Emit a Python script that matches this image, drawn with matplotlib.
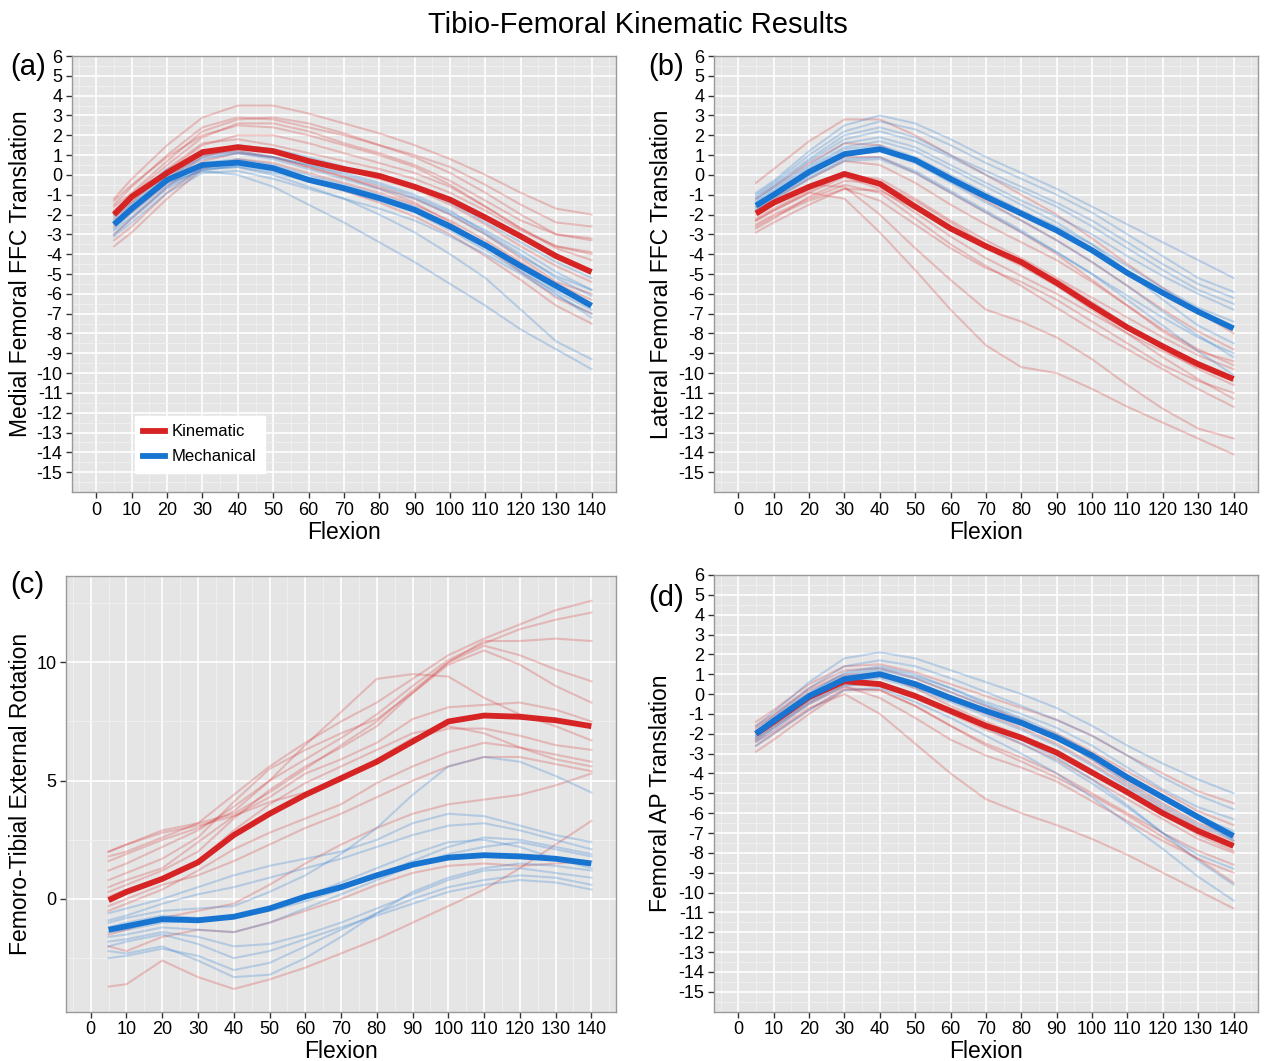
import matplotlib
matplotlib.use('Agg')
import matplotlib.pyplot as plt
from matplotlib.ticker import MultipleLocator
from matplotlib.lines import Line2D

plt.rcParams['font.family'] = ['Liberation Sans', 'DejaVu Sans']
plt.rcParams['axes.unicode_minus'] = False

# flexion angles (deg) at which every curve is sampled
flexion = [5, 10, 20, 30, 40, 50, 60, 70, 80, 90, 100, 110, 120, 130, 140]
flexion_ticks = [0, 10, 20, 30, 40, 50, 60, 70, 80, 90, 100, 110, 120, 130, 140]
trans_ticks = list(range(-15, 7))
rot_ticks = [0, 5, 10]

# (a) medial femoral FFC translation
a_kin_mean = [-2.0, -1.1, 0.1, 1.15, 1.4, 1.2, 0.7, 0.3, -0.05, -0.6, -1.25, -2.15, -3.1, -4.1, -4.9]
a_mech_mean = [-2.5, -1.7, -0.25, 0.5, 0.62, 0.34, -0.25, -0.67, -1.17, -1.76, -2.6, -3.55, -4.6, -5.6, -6.6]
a_kin_subj = [
    [-1.2, -0.2, 1.5, 2.9, 3.5, 3.5, 3.1, 2.6, 2.1, 1.5, 0.8, 0.0, -0.9, -1.7, -2.0],
    [-1.5, -0.6, 1.0, 2.4, 2.9, 2.8, 2.4, 2.0, 1.5, 1.0, 0.4, -0.5, -1.5, -2.4, -2.6],
    [-1.8, -1.0, 0.5, 1.9, 2.6, 2.6, 2.2, 1.6, 1.1, 0.5, -0.3, -1.3, -2.3, -3.0, -3.3],
    [-2.2, -1.4, 0.2, 1.5, 2.0, 2.0, 1.6, 1.1, 0.6, 0.1, -0.6, -1.6, -2.7, -3.7, -4.3],
    [-2.6, -1.9, -0.4, 0.9, 1.4, 1.2, 0.8, 0.3, -0.2, -0.7, -1.5, -2.5, -3.6, -4.6, -5.4],
    [-3.6, -2.9, -1.2, 0.3, 0.8, 0.6, 0.1, -0.4, -0.9, -1.5, -2.3, -3.3, -4.4, -5.5, -6.3],
    [-3.0, -2.2, -0.6, 0.7, 1.1, 0.9, 0.4, -0.1, -0.6, -1.2, -2.0, -3.0, -4.2, -5.4, -6.0],
    [-1.3, -0.5, 0.9, 2.0, 2.5, 2.4, 2.0, 1.5, 1.0, 0.4, -0.5, -1.6, -2.7, -3.6, -3.9],
    [-2.4, -1.6, -0.2, 1.0, 1.2, 0.9, 0.4, -0.1, -0.7, -1.4, -2.4, -3.6, -4.9, -6.2, -7.0],
    [-2.0, -1.3, 0.3, 1.6, 1.8, 1.5, 1.1, 0.7, 0.3, -0.2, -0.9, -1.8, -2.8, -3.6, -4.0],
    [-3.3, -2.6, -0.9, 0.4, 0.6, 0.3, -0.2, -0.8, -1.4, -2.1, -3.0, -4.1, -5.3, -6.6, -7.5],
    [-1.6, -0.9, 0.7, 2.2, 2.8, 2.9, 2.6, 2.1, 1.5, 0.9, 0.1, -0.9, -2.0, -3.0, -3.2],
]
a_mech_subj = [
    [-2.0, -1.2, 0.2, 1.1, 1.5, 1.3, 0.9, 0.4, -0.1, -0.6, -1.4, -2.4, -3.4, -4.4, -5.2],
    [-2.3, -1.5, -0.1, 0.8, 1.1, 0.8, 0.3, -0.2, -0.7, -1.2, -2.0, -3.0, -4.1, -5.1, -5.8],
    [-2.7, -1.9, -0.5, 0.3, 0.4, 0.1, -0.3, -0.8, -1.3, -1.9, -2.8, -3.8, -4.9, -5.9, -6.8],
    [-3.1, -2.4, -0.9, 0.1, 0.2, -0.2, -0.7, -1.2, -1.7, -2.3, -3.1, -4.0, -5.0, -6.1, -7.0],
    [-2.4, -1.7, -0.4, 0.2, 0.0, -0.6, -1.5, -2.4, -3.4, -4.4, -5.5, -6.6, -7.8, -8.8, -9.8],
    [-2.8, -2.1, -0.6, 0.3, 0.4, 0.0, -0.6, -1.2, -2.0, -2.9, -4.0, -5.2, -6.8, -8.4, -9.3],
    [-1.9, -1.1, 0.3, 1.0, 1.2, 0.9, 0.5, 0.0, -0.5, -1.1, -1.9, -2.8, -3.8, -4.9, -5.8],
    [-2.5, -1.8, -0.3, 0.6, 0.8, 0.5, 0.0, -0.5, -1.0, -1.6, -2.5, -3.6, -4.7, -5.8, -6.5],
    [-3.0, -2.2, -0.7, 0.2, 0.5, 0.2, -0.2, -0.7, -1.2, -1.8, -2.6, -3.6, -4.8, -6.0, -7.2],
    [-2.1, -1.4, 0.0, 0.9, 1.1, 0.9, 0.5, 0.1, -0.4, -1.0, -1.8, -2.9, -4.0, -5.2, -6.1],
]

# (b) lateral femoral FFC translation
b_kin_mean = [-1.95, -1.4, -0.6, 0.05, -0.45, -1.6, -2.7, -3.6, -4.4, -5.45, -6.6, -7.7, -8.65, -9.55, -10.3]
b_mech_mean = [-1.55, -1.0, 0.15, 1.05, 1.3, 0.75, -0.2, -1.1, -1.95, -2.8, -3.8, -4.95, -5.95, -6.9, -7.75]
b_kin_subj = [
    [-0.4, 0.3, 1.7, 2.8, 2.8, 2.0, 1.0, 0.0, -1.0, -2.0, -3.2, -4.5, -5.7, -6.9, -8.0],
    [-1.2, -0.6, 0.6, 1.6, 1.5, 0.7, -0.3, -1.3, -2.3, -3.3, -4.4, -5.6, -6.8, -7.9, -8.8],
    [-1.8, -1.2, -0.2, 0.7, 0.5, -0.4, -1.5, -2.5, -3.4, -4.3, -5.4, -6.6, -7.8, -8.8, -9.6],
    [-2.3, -1.8, -0.9, -0.1, -0.7, -1.9, -3.1, -4.2, -5.1, -6.0, -7.0, -8.0, -8.9, -9.7, -10.4],
    [-2.6, -2.1, -1.3, -0.7, -1.3, -2.5, -3.7, -4.7, -5.4, -6.3, -7.4, -8.5, -9.6, -10.4, -11.0],
    [-2.3, -1.8, -0.9, -1.2, -2.9, -4.8, -6.8, -8.6, -9.7, -10.0, -10.8, -11.7, -12.5, -13.3, -14.1],
    [-2.0, -1.5, -0.5, -0.6, -2.0, -3.7, -5.3, -6.8, -7.4, -8.2, -9.3, -10.6, -11.8, -12.8, -13.3],
    [-2.9, -2.4, -1.5, -0.7, -0.8, -1.7, -2.8, -3.7, -4.6, -5.6, -6.8, -8.0, -9.2, -10.3, -11.3],
    [-1.6, -1.0, 0.1, 0.9, 0.9, 0.1, -0.9, -1.9, -2.9, -4.0, -5.3, -6.6, -7.9, -8.9, -9.4],
    [-2.7, -2.2, -1.1, -0.3, -0.4, -1.3, -2.4, -3.5, -4.4, -5.3, -6.4, -7.6, -8.8, -9.8, -10.6],
    [-2.2, -1.7, -0.8, 0.0, -0.2, -1.2, -2.3, -3.3, -4.2, -5.2, -6.2, -7.2, -8.2, -9.1, -9.8],
    [-2.5, -2.0, -1.2, -0.5, -0.9, -2.2, -3.5, -4.6, -5.6, -6.7, -7.8, -8.8, -9.8, -10.8, -11.7],
]
b_mech_subj = [
    [-0.9, -0.3, 1.2, 2.5, 3.0, 2.6, 1.8, 0.9, 0.1, -0.7, -1.6, -2.5, -3.4, -4.3, -5.2],
    [-1.1, -0.5, 0.8, 2.0, 2.4, 1.9, 1.0, 0.2, -0.6, -1.4, -2.3, -3.4, -4.5, -5.5, -6.2],
    [-1.3, -0.7, 0.5, 1.6, 1.9, 1.4, 0.5, -0.4, -1.3, -2.1, -3.0, -4.1, -5.1, -6.0, -6.8],
    [-1.5, -0.9, 0.3, 1.3, 1.5, 0.9, 0.0, -0.9, -1.8, -2.6, -3.5, -4.6, -5.7, -6.7, -7.4],
    [-1.7, -1.2, -0.1, 0.8, 0.9, 0.2, -0.8, -1.8, -2.8, -3.9, -5.0, -6.3, -7.6, -8.9, -10.1],
    [-1.6, -1.1, 0.0, 1.0, 1.2, 0.6, -0.4, -1.4, -2.3, -3.3, -4.4, -5.6, -6.9, -8.1, -9.2],
    [-1.2, -0.6, 0.7, 1.8, 2.2, 1.7, 0.9, 0.0, -0.8, -1.6, -2.6, -3.7, -4.8, -5.8, -6.5],
    [-1.4, -0.8, 0.4, 1.4, 1.7, 1.2, 0.3, -0.6, -1.5, -2.4, -3.5, -4.9, -6.3, -7.6, -8.5],
    [-1.0, -0.4, 1.0, 2.2, 2.7, 2.3, 1.5, 0.6, -0.2, -1.0, -1.9, -3.0, -4.1, -5.2, -5.9],
    [-1.8, -1.3, -0.2, 0.7, 0.8, 0.1, -0.9, -1.9, -2.9, -3.9, -5.0, -6.1, -7.2, -8.2, -9.0],
]

# (c) femoro-tibial external rotation
c_kin_mean = [-0.05, 0.3, 0.85, 1.55, 2.7, 3.6, 4.4, 5.1, 5.8, 6.65, 7.5, 7.75, 7.7, 7.55, 7.3]
c_mech_mean = [-1.3, -1.15, -0.85, -0.9, -0.75, -0.4, 0.1, 0.5, 1.0, 1.45, 1.75, 1.85, 1.8, 1.7, 1.5]
c_kin_subj = [
    [1.8, 2.0, 2.6, 3.2, 4.4, 5.6, 6.6, 7.5, 8.3, 9.3, 10.3, 11.0, 11.6, 12.2, 12.6],
    [1.2, 1.5, 2.2, 2.9, 3.9, 5.0, 5.9, 6.8, 7.8, 9.0, 10.1, 10.8, 11.4, 11.8, 12.1],
    [0.3, 0.6, 1.2, 2.0, 3.4, 4.6, 5.6, 6.4, 7.3, 8.7, 10.0, 10.9, 10.9, 11.0, 10.9],
    [2.0, 2.3, 2.9, 3.2, 3.6, 4.5, 5.5, 6.5, 7.5, 8.8, 10.0, 10.7, 10.3, 9.7, 9.2],
    [0.8, 1.1, 1.7, 2.6, 4.1, 5.5, 6.3, 7.0, 7.6, 8.7, 9.9, 10.5, 9.9, 9.0, 8.3],
    [2.0, 2.3, 2.8, 3.1, 3.5, 4.3, 5.3, 5.9, 6.6, 7.6, 8.1, 8.2, 8.3, 8.0, 7.5],
    [1.6, 1.9, 2.5, 3.0, 3.7, 5.0, 6.5, 7.9, 9.3, 9.5, 9.4, 8.5, 7.8, 7.3, 6.7],
    [0.5, 0.8, 1.3, 2.4, 3.5, 4.1, 4.5, 5.0, 5.9, 6.8, 7.2, 7.2, 6.9, 6.5, 6.3],
    [-0.5, -0.2, 0.4, 1.2, 2.1, 2.8, 3.4, 4.0, 4.9, 5.6, 6.2, 6.6, 6.4, 6.1, 5.8],
    [-0.3, 0.0, 0.6, 1.0, 1.6, 2.3, 3.0, 3.6, 4.3, 5.0, 5.6, 6.0, 6.0, 5.7, 5.4],
    [-3.7, -3.6, -2.6, -3.3, -3.8, -3.4, -2.9, -2.3, -1.7, -1.0, -0.3, 0.4, 1.3, 2.3, 3.3],
    [-2.0, -2.2, -1.6, -1.3, -1.4, -1.0, -0.5, 0.0, 0.6, 1.1, 1.4, 1.5, 1.4, 1.5, 1.6],
    [-1.5, -1.3, -0.8, -0.5, -0.2, 0.6, 1.5, 2.3, 3.0, 3.6, 4.0, 4.2, 4.4, 4.8, 5.3],
    [0.1, 0.4, 0.9, 1.6, 2.9, 4.0, 4.9, 5.6, 6.3, 7.0, 7.3, 7.0, 6.4, 5.9, 5.6],
]
c_mech_subj = [
    [-0.6, -0.4, 0.0, 0.5, 1.0, 1.4, 1.7, 2.0, 2.5, 3.2, 3.6, 3.5, 3.1, 2.7, 2.4],
    [-1.0, -0.8, -0.5, -0.4, -0.3, 0.3, 1.0, 1.9, 3.0, 4.4, 5.6, 6.0, 5.8, 5.2, 4.5],
    [-0.9, -0.7, -0.2, 0.2, 0.5, 0.9, 1.3, 1.7, 2.2, 2.7, 3.1, 3.2, 2.9, 2.5, 2.1],
    [-1.6, -1.5, -1.2, -1.3, -1.4, -1.0, -0.4, 0.2, 0.8, 1.4, 1.9, 2.2, 2.4, 2.1, 1.8],
    [-2.2, -2.3, -2.0, -2.6, -3.3, -3.2, -2.5, -1.6, -0.6, 0.3, 0.9, 1.3, 1.5, 1.4, 1.2],
    [-2.5, -2.4, -2.1, -2.4, -3.0, -2.7, -2.0, -1.3, -0.6, 0.0, 0.5, 0.8, 1.0, 0.9, 0.6],
    [-1.2, -1.0, -0.7, -0.8, -0.8, -0.5, -0.1, 0.4, 1.0, 1.6, 2.2, 2.6, 2.5, 2.2, 1.9],
    [-1.8, -1.7, -1.4, -1.6, -2.0, -1.9, -1.5, -1.0, -0.4, 0.2, 0.8, 1.2, 1.3, 1.1, 0.9],
    [-1.4, -1.3, -1.0, -0.9, -0.7, -0.4, 0.1, 0.7, 1.3, 1.9, 2.4, 2.5, 2.2, 1.7, 1.3],
    [-2.0, -1.8, -1.5, -1.9, -2.5, -2.2, -1.7, -1.2, -0.7, -0.2, 0.3, 0.6, 0.8, 0.7, 0.4],
]

# (d) femoral AP translation
d_kin_mean = [-2.0, -1.4, -0.15, 0.65, 0.5, -0.1, -0.85, -1.6, -2.2, -2.95, -3.95, -4.95, -6.0, -6.9, -7.65]
d_mech_mean = [-2.0, -1.35, -0.1, 0.75, 1.0, 0.5, -0.2, -0.85, -1.45, -2.2, -3.1, -4.2, -5.2, -6.2, -7.15]
d_kin_subj = [
    [-1.4, -0.8, 0.5, 1.4, 1.5, 1.1, 0.5, -0.1, -0.7, -1.3, -2.1, -3.1, -4.0, -4.9, -5.5],
    [-1.7, -1.1, 0.2, 1.0, 1.0, 0.5, -0.1, -0.8, -1.4, -2.0, -2.9, -3.9, -4.9, -5.9, -6.6],
    [-2.2, -1.6, -0.4, 0.5, 0.4, -0.2, -1.0, -1.8, -2.5, -3.3, -4.3, -5.3, -6.3, -7.3, -8.0],
    [-2.4, -1.9, -0.7, 0.0, -1.0, -2.5, -4.0, -5.3, -6.0, -6.6, -7.3, -8.1, -9.0, -9.9, -10.8],
    [-2.9, -2.3, -1.0, 0.2, 0.2, -0.6, -1.6, -2.6, -3.4, -4.2, -5.1, -6.1, -7.2, -8.3, -9.5],
    [-2.0, -1.4, -0.2, 0.7, 0.9, 0.4, -0.3, -1.0, -1.7, -2.5, -3.5, -4.6, -5.7, -6.7, -7.4],
    [-1.6, -1.0, 0.3, 1.2, 1.3, 0.8, 0.1, -0.6, -1.3, -2.2, -3.3, -4.4, -5.5, -6.5, -7.2],
    [-2.6, -2.0, -0.8, 0.3, 0.2, -0.6, -1.6, -2.5, -3.2, -4.0, -5.0, -6.0, -7.0, -7.9, -8.6],
    [-1.9, -1.3, -0.1, 0.9, 1.0, 0.3, -0.6, -1.4, -2.1, -2.9, -3.9, -4.9, -6.0, -7.1, -7.9],
    [-2.3, -1.7, -0.5, 0.4, -0.2, -1.2, -2.3, -3.1, -3.7, -4.4, -5.4, -6.4, -7.4, -8.3, -9.0],
]
d_mech_subj = [
    [-1.6, -0.9, 0.6, 1.8, 2.1, 1.8, 1.2, 0.6, 0.0, -0.7, -1.6, -2.6, -3.5, -4.3, -5.0],
    [-1.8, -1.1, 0.3, 1.4, 1.7, 1.4, 0.8, 0.1, -0.6, -1.3, -2.1, -3.1, -4.2, -5.1, -5.8],
    [-2.1, -1.5, -0.2, 0.8, 1.1, 0.6, -0.1, -0.8, -1.4, -2.1, -3.1, -4.2, -5.3, -6.2, -6.9],
    [-2.4, -1.8, -0.5, 0.4, 0.6, 0.0, -0.8, -1.6, -2.3, -3.2, -4.3, -5.6, -7.0, -8.1, -8.8],
    [-2.0, -1.3, 0.0, 1.1, 1.4, 1.0, 0.3, -0.5, -1.2, -2.0, -3.0, -4.1, -5.2, -6.3, -7.4],
    [-2.6, -2.0, -0.8, 0.2, 0.3, -0.4, -1.2, -2.1, -3.0, -4.0, -5.2, -6.5, -7.8, -9.2, -10.4],
    [-2.2, -1.6, -0.3, 0.6, 0.8, 0.3, -0.4, -1.1, -1.8, -2.6, -3.6, -4.7, -5.8, -6.8, -7.6],
    [-1.9, -1.2, 0.1, 1.0, 1.3, 0.9, 0.3, -0.4, -1.0, -1.7, -2.6, -3.7, -4.8, -5.7, -6.3],
    [-2.3, -1.7, -0.4, 0.5, 0.5, -0.1, -0.9, -1.7, -2.5, -3.4, -4.5, -5.7, -7.0, -8.4, -9.6],
    [-2.1, -1.4, -0.1, 0.9, 1.2, 0.8, 0.1, -0.6, -1.3, -2.2, -3.3, -4.5, -5.6, -6.6, -7.3],
]

RED = '#D62425'
BLUE = '#1874D1'


def panel(ax, kin_subj, mech_subj, kin_mean, mech_mean, ylim, yticks, yminor, ylabel, labx, xlaby):
    ax.set_facecolor('#E5E5E5')
    # individual knees
    for y in kin_subj:
        ax.plot(flexion, y, color=RED, alpha=0.24, lw=1.5)
    for y in mech_subj:
        ax.plot(flexion, y, color=BLUE, alpha=0.24, lw=1.5)
    # group means
    ax.plot(flexion, kin_mean, color=RED, lw=4.2, solid_capstyle='butt')
    ax.plot(flexion, mech_mean, color=BLUE, lw=4.2, solid_capstyle='butt')

    ax.set_xlim(-6.9, 146.9)
    ax.set_ylim(*ylim)
    ax.set_xticks(flexion_ticks)
    ax.set_yticks(yticks)
    ax.xaxis.set_minor_locator(MultipleLocator(5))
    ax.yaxis.set_minor_locator(MultipleLocator(yminor))
    ax.grid(which='major', color='white', lw=1.2)
    ax.grid(which='minor', color='#F2F2F2', lw=0.6)
    ax.set_axisbelow(True)
    ax.tick_params(which='major', direction='out', length=4, width=1, color='#333333',
                   labelsize=13, pad=3)
    ax.tick_params(which='minor', length=0)
    for s in ax.spines.values():
        s.set_color('#999999')
        s.set_linewidth(1)
    ax.set_xlabel('Flexion', fontsize=16.5)
    ax.xaxis.set_label_coords(0.5, xlaby)
    ax.set_ylabel(ylabel, fontsize=16.5)
    ax.yaxis.set_label_coords(labx, 0.5)


fig = plt.figure(figsize=(12.65, 10.61), dpi=100)
ax_a = fig.add_axes([0.0569, 0.5363, 0.4300, 0.4109])
ax_b = fig.add_axes([0.5644, 0.5363, 0.4300, 0.4109])
ax_c = fig.add_axes([0.0522, 0.0465, 0.4348, 0.4107])
ax_d = fig.add_axes([0.5644, 0.0465, 0.4300, 0.4116])

panel(ax_a, a_kin_subj, a_mech_subj, a_kin_mean, a_mech_mean, (-16, 6), trans_ticks, 0.5,
      'Medial Femoral FFC Translation', -0.0735, -0.066)
panel(ax_b, b_kin_subj, b_mech_subj, b_kin_mean, b_mech_mean, (-16, 6), trans_ticks, 0.5,
      'Lateral Femoral FFC Translation', -0.076, -0.066)
panel(ax_c, c_kin_subj, c_mech_subj, c_kin_mean, c_mech_mean, (-4.76, 13.65), rot_ticks, 2.5,
      'Femoro-Tibial External Rotation', -0.062, -0.065)
panel(ax_d, d_kin_subj, d_mech_subj, d_kin_mean, d_mech_mean, (-16, 6), trans_ticks, 0.5,
      'Femoral AP Translation', -0.077, -0.065)

handles = [Line2D([], [], color=RED, lw=4.2), Line2D([], [], color=BLUE, lw=4.2)]
leg = ax_a.legend(handles, ['Kinematic', 'Mechanical'], loc='lower left',
                  bbox_to_anchor=(0.116, 0.044), fontsize=12, frameon=True, fancybox=False,
                  handlelength=1.3, handletextpad=0.4, borderpad=0.5, labelspacing=0.6,
                  borderaxespad=0)
leg.get_frame().set_facecolor('white')
leg.get_frame().set_edgecolor('white')
leg.get_frame().set_alpha(1)

fig.text(0.504, 1 - 25 / 1061, 'Tibio-Femoral Kinematic Results', ha='center', va='center',
         fontsize=21)
fig.text(10 / 1265, 1 - 67 / 1061, '(a)', fontsize=21, va='center')
fig.text(648 / 1265, 1 - 67 / 1061, '(b)', fontsize=21, va='center')
fig.text(10 / 1265, 1 - 585 / 1061, '(c)', fontsize=21, va='center')
fig.text(648 / 1265, 1 - 598 / 1061, '(d)', fontsize=21, va='center')

fig.savefig('out.png', dpi=100)
